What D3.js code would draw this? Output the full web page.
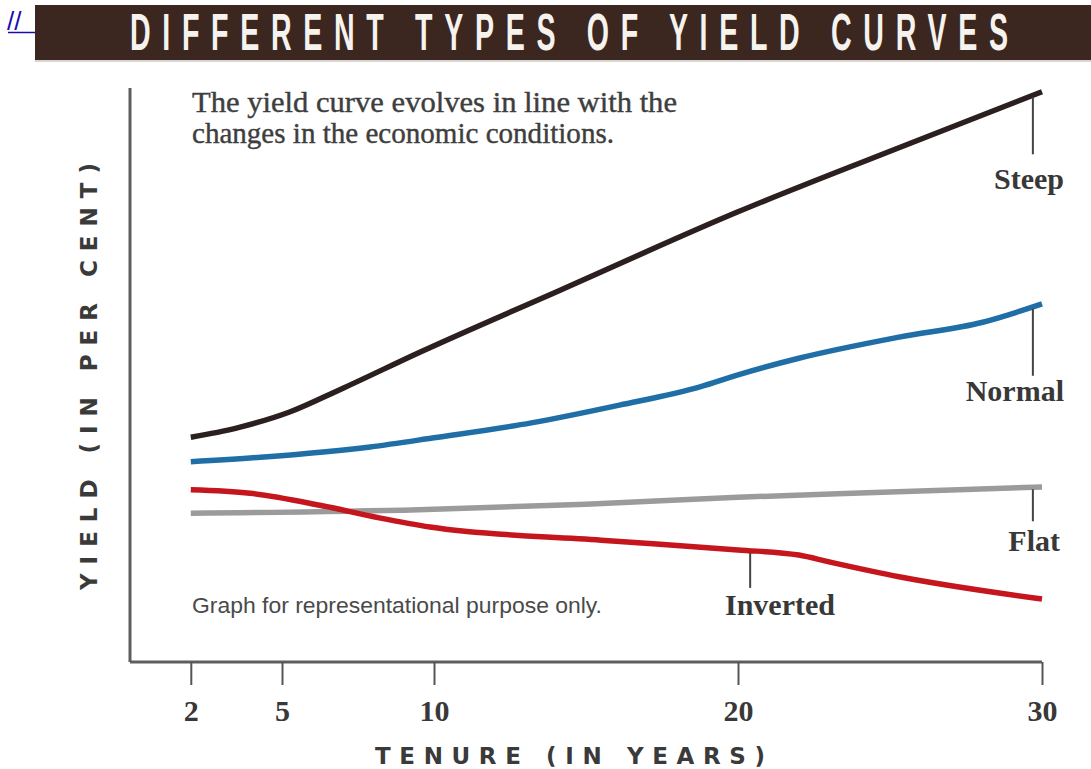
<!DOCTYPE html>
<html>
<head>
<meta charset="utf-8">
<script src="https://cdn.jsdelivr.net/npm/d3@7"></script>
<style>
  body { margin: 0; background: #fff; }
  svg { display: block; }
</style>
</head>
<body>
<div id="vis-svg"></div>
<script>
var width = 1091;
var height = 769;

// tenure ticks
var tenureTicks = [2, 5, 10, 20, 30];

// yield curves (illustrative yields, per cent)
var steepTenure = [2, 3.5, 5.25, 6.9, 9.55, 14.15, 20, 25, 30];
var steepYield = [3.93, 4.09, 4.37, 4.76, 5.42, 6.5, 7.87, 8.93, 9.97];

var normalTenure = [2, 4.3, 7.9, 10, 13.2, 16.1, 18.75, 20, 22, 25.3, 28.05, 30];
var normalYield = [3.5, 3.58, 3.76, 3.92, 4.18, 4.49, 4.81, 5.02, 5.31, 5.68, 5.94, 6.26];

var flatTenure = [2, 9.5, 15, 20, 25, 30];
var flatYield = [2.6, 2.66, 2.76, 2.88, 2.97, 3.06];

var invertedTenure = [2, 3.95, 6.25, 8.2, 9.87, 15.5, 20, 22, 23, 25.3, 30];
var invertedYield = [3.01, 2.95, 2.74, 2.52, 2.36, 2.13, 1.96, 1.87, 1.75, 1.49, 1.1];

var seriesNames = ["Steep", "Normal", "Flat", "Inverted"];
var seriesColors = ["#2b1f1f", "#1f6ea6", "#9b9b9b", "#c4161c"];
// where each label's leader line hangs from (tenure)
var labelAt = [29.7, 29.7, 29.7, 20.4];

var series = [
  { name: seriesNames[0], t: steepTenure, v: steepYield },
  { name: seriesNames[1], t: normalTenure, v: normalYield },
  { name: seriesNames[2], t: flatTenure, v: flatYield },
  { name: seriesNames[3], t: invertedTenure, v: invertedYield }
];

var svg = d3
  .select("#vis-svg")
  .append("svg")
  .attr("width", width)
  .attr("height", height);

var x = d3.scaleLinear().domain([0, 30]).range([130, 1042]);
var y = d3.scaleLinear().domain([0, 10]).range([662, 90]);

// little link glyph at top-left
svg.append("text")
  .attr("x", 7)
  .attr("y", 30)
  .attr("font-family", "'Liberation Sans', Arial, sans-serif")
  .attr("font-size", 26)
  .attr("fill", "#1a0dab")
  .text("//");
svg.append("line")
  .attr("x1", 8).attr("x2", 35)
  .attr("y1", 32.5).attr("y2", 32.5)
  .attr("stroke", "#1a0dab")
  .attr("stroke-width", 1.5);

// title bar
svg.append("rect")
  .attr("x", 35).attr("y", 5)
  .attr("width", width - 35).attr("height", 55)
  .attr("fill", "#3b2620");
svg.append("line")
  .attr("x1", 35).attr("x2", width)
  .attr("y1", 61).attr("y2", 61)
  .attr("stroke", "#d8d4d0")
  .attr("stroke-width", 2);
// condensed look: squeeze glyphs horizontally, then spread the letters
var squeeze = 0.56;
svg.append("text")
  .attr("transform", "translate(130,50) scale(" + squeeze + ",1)")
  .attr("font-family", "'Liberation Sans', Arial, sans-serif")
  .attr("font-weight", "bold")
  .attr("font-size", 51)
  .attr("textLength", 878 / squeeze)
  .attr("lengthAdjust", "spacing")
  .attr("fill", "#f6f3ee")
  .text("DIFFERENT TYPES OF YIELD CURVES");

// axes: left line and bottom line with ticks going down
var axisColor = "#5e5e5e";
svg.append("line")
  .attr("x1", x(0)).attr("x2", x(0))
  .attr("y1", 88).attr("y2", y(0))
  .attr("stroke", axisColor)
  .attr("stroke-width", 3);

var xAxis = d3.axisBottom(x)
  .tickValues(tenureTicks)
  .tickSize(23)
  .tickPadding(15)
  .tickSizeOuter(0);

var gx = svg.append("g")
  .attr("transform", "translate(0," + y(0) + ")")
  .call(xAxis);
gx.select(".domain")
  .attr("stroke", axisColor)
  .attr("stroke-width", 3)
  .attr("d", "M" + x(0) + ",0H" + x(30));
gx.selectAll(".tick line")
  .attr("stroke", "#555")
  .attr("stroke-width", 2);
gx.selectAll(".tick text")
  .attr("font-family", "'Liberation Serif', 'DejaVu Serif', serif")
  .attr("font-weight", "bold")
  .attr("font-size", 30)
  .attr("fill", "#383838");

// axis titles
svg.append("text")
  .attr("x", 375)
  .attr("y", 764)
  .attr("font-family", "'DejaVu Sans', sans-serif")
  .attr("font-weight", "bold")
  .attr("font-size", 23)
  .attr("textLength", 390)
  .attr("lengthAdjust", "spacing")
  .attr("fill", "#3a3a3a")
  .text("TENURE (IN YEARS)");

svg.append("text")
  .attr("transform", "translate(97,590) rotate(-90)")
  .attr("font-family", "'DejaVu Sans', sans-serif")
  .attr("font-weight", "bold")
  .attr("font-size", 23)
  .attr("textLength", 427)
  .attr("lengthAdjust", "spacing")
  .attr("fill", "#3a3a3a")
  .text("YIELD (IN PER CENT)");

// notes
var serif = "'Liberation Serif', 'DejaVu Serif', serif";
svg.append("text")
  .attr("x", 192).attr("y", 112)
  .attr("font-family", serif)
  .attr("font-size", 29)
  .attr("textLength", 485)
  .attr("lengthAdjust", "spacingAndGlyphs")
  .attr("fill", "#3e3e3e")
  .attr("stroke", "#3e3e3e")
  .attr("stroke-width", 0.4)
  .text("The yield curve evolves in line with the");
svg.append("text")
  .attr("x", 192).attr("y", 143)
  .attr("font-family", serif)
  .attr("font-size", 29)
  .attr("textLength", 422)
  .attr("lengthAdjust", "spacingAndGlyphs")
  .attr("fill", "#3e3e3e")
  .attr("stroke", "#3e3e3e")
  .attr("stroke-width", 0.4)
  .text("changes  in the economic conditions.");

svg.append("text")
  .attr("x", 192).attr("y", 613)
  .attr("font-family", "'Liberation Sans', Arial, sans-serif")
  .attr("font-size", 22)
  .attr("textLength", 410)
  .attr("lengthAdjust", "spacingAndGlyphs")
  .attr("fill", "#4a4a4a")
  .text("Graph for representational purpose only.");

// curves
var line = d3.line()
  .x(function(d) { return x(d[0]); })
  .y(function(d) { return y(d[1]); })
  .curve(d3.curveMonotoneX);

var lineGroup = svg.append("g").attr("class", "curves");
lineGroup.selectAll("path")
  .data(series)
  .enter()
  .append("path")
  .attr("d", function(s) { return line(d3.zip(s.t, s.v)); })
  .attr("fill", "none")
  .attr("stroke", function(d, i) { return seriesColors[i]; })
  .attr("stroke-width", 5.5)
  .attr("stroke-linejoin", "round");

// labels with leader lines
function valueAt(s, t) {
  var i = d3.bisectLeft(s.t, t);
  if (i <= 0) return s.v[0];
  if (i >= s.t.length) return s.v[s.v.length - 1];
  var k = (t - s.t[i - 1]) / (s.t[i] - s.t[i - 1]);
  return s.v[i - 1] + k * (s.v[i] - s.v[i - 1]);
}

var leaderLen = [57, 67, 32, 35];
var labelDx = [1064, 1064, 1060, 725];
var labelAnchor = ["end", "end", "end", "start"];
var labelGap = [35, 25, 30, 27];

series.forEach(function(s, i) {
  var lx = x(labelAt[i]);
  var top = y(valueAt(s, labelAt[i])) + 2;
  svg.append("line")
    .attr("x1", lx).attr("x2", lx)
    .attr("y1", top).attr("y2", top + leaderLen[i])
    .attr("stroke", "#444")
    .attr("stroke-width", 2);
  svg.append("text")
    .attr("x", labelDx[i])
    .attr("y", top + leaderLen[i] + labelGap[i])
    .attr("text-anchor", labelAnchor[i])
    .attr("font-family", serif)
    .attr("font-weight", "bold")
    .attr("font-size", 30)
    .attr("fill", "#383838")
    .text(s.name);
});
</script>
</body>
</html>
